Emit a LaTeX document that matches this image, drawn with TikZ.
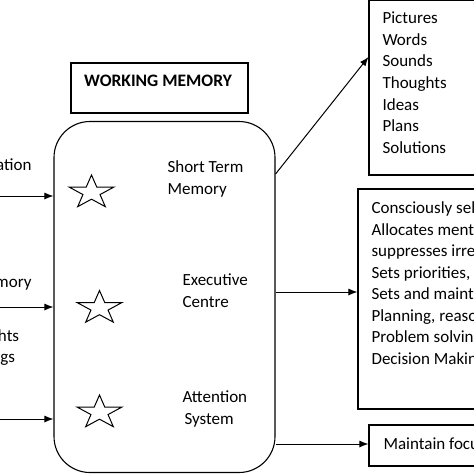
\documentclass[tikz,border=0pt]{standalone}
\usepackage{fontspec}
\setmainfont{Carlito}
\usetikzlibrary{arrows.meta}
\begin{document}
\begin{tikzpicture}[x=1pt,y=-1pt,
  line width=1.1pt,
  box/.style={draw,inner sep=0pt,minimum width=#1},
  txt/.style={inner sep=0pt,anchor=base west,font=\fontsize{17}{21}\selectfont},
  ltxt/.style={inner sep=0pt,anchor=base east,font=\fontsize{17}{21}\selectfont},
  arr/.style={-{Latex[length=9pt,width=7pt]},line width=1pt},
  starline/.style={line width=1pt,line join=miter}]
\useasboundingbox (0,0) rectangle (474,474);
% title box
\node[box=177pt,minimum height=50pt] (title) at (159.5,88) {};
\node[inner sep=0pt,anchor=base,font=\fontsize{17.5}{21}\selectfont\bfseries] (titletext) at (158,86.7) {WORKING MEMORY};
% working memory rounded box
\node[box=221pt,minimum height=351pt,rounded corners=36pt] (wm) at (164.5,297) {};
% right boxes
\node[box=151pt,minimum height=175pt] (list) at (444.5,87.5) {};
\node[box=162pt,minimum height=220pt] (exec) at (439,299) {};
\node[box=151pt,minimum height=41pt] (att) at (444.5,445.5) {};
% stars
\foreach \cx/\cy in {91.5/192.5, 99.5/308, 99.5/412.5}{
  \draw[starline,shift={(\cx,\cy)},xscale=23.5,yscale=17.5]
    (-90:1) -- (-54:0.382) -- (-18:1) -- (18:0.382) -- (54:1) -- (90:0.382)
    -- (126:1) -- (162:0.382) -- (198:1) -- (234:0.382) -- cycle;
}
% inner texts
\node[txt] (stm1) at (167,172.5) {Short Term};
\node[txt] (stm2) at (167,194) {Memory};
\node[txt] (ec1) at (182,285.5) {Executive};
\node[txt] (ec2) at (182,307) {Centre};
\node[txt] (as1) at (182,402.5) {Attention};
\node[txt] (as2) at (184,424) {System};
% list texts
\foreach \t [count=\i from 0] in {Pictures,Words,Sounds,Thoughts,Ideas,Plans,Solutions}{
  \node[txt] (l\i) at (382,23.3+21.7*\i) {\t};
}
\foreach \t [count=\i from 0] in {Consciously selects,Allocates mental resources,suppresses irrelevant,{Sets priorities, goals},Sets and maintains,{Planning, reasoning},Problem solving,Decision Making}{
  \node[txt] (e\i) at (371,213.5+21.5*\i) {\t};
}
\node[txt] (focus) at (383,449.5) {Maintain focus};
% left labels
\node[ltxt] (in1) at (32,170.7) {Information};
\node[ltxt] (in2) at (32,287.5) {Memory};
\node[inner sep=0pt,anchor=base,align=center,font=\fontsize{17}{21.5}\selectfont] (in3) at (-13,362.5) {Thoughts\\Feelings};
% arrows
\coordinate (f1) at (-5,196);
\coordinate (f2) at (-5,307);
\coordinate (f3) at (-5,419);
\draw[arr] (f1) -- (wm.west |- f1);
\draw[arr] (f2) -- (wm.west |- f2);
\draw[arr] (f3) -- (wm.west |- f3);
\draw[arr] (wm.east |- 0,174) -- (list.west |- 0,57);
\draw[arr] (wm.east |- 0,292) -- (exec.west |- 0,292);
\draw[arr] (wm.east |- 0,444) -- (att.west |- 0,444);
\end{tikzpicture}
\end{document}
